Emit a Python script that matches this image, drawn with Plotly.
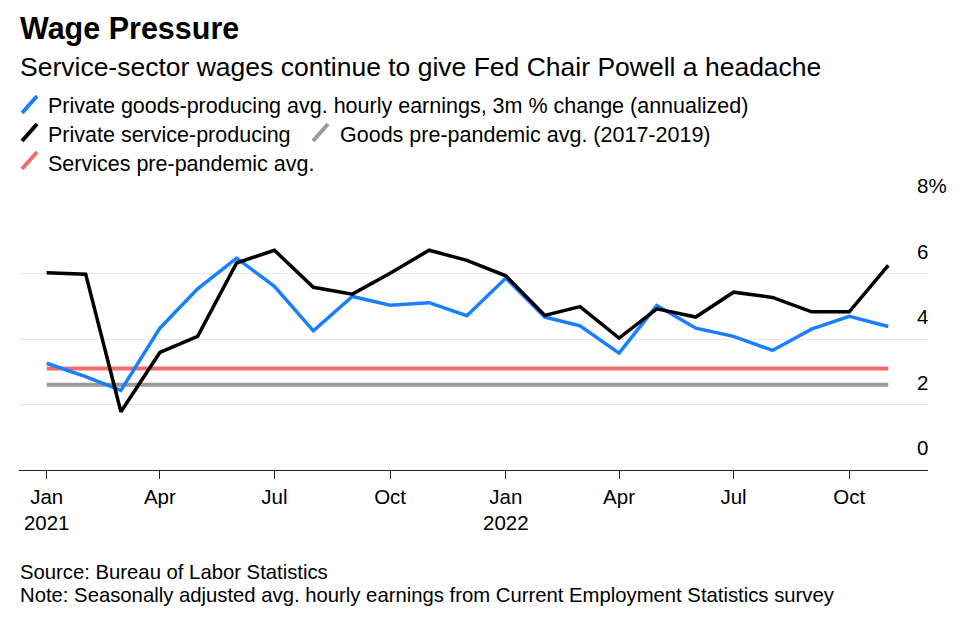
import plotly.graph_objects as go

# ---- data ----
months = ["2021-01-01", "2021-02-01", "2021-03-01", "2021-04-01", "2021-05-01", "2021-06-01",
          "2021-07-01", "2021-08-01", "2021-09-01", "2021-10-01", "2021-11-01", "2021-12-01",
          "2022-01-01", "2022-02-01", "2022-03-01", "2022-04-01", "2022-05-01", "2022-06-01",
          "2022-07-01", "2022-08-01", "2022-09-01", "2022-10-01", "2022-11-01"]
goods = [3.26, 2.85, 2.43, 4.33, 5.53, 6.47, 5.61, 4.25, 5.30, 5.03, 5.11, 4.71,
         5.86, 4.67, 4.40, 3.57, 5.02, 4.33, 4.08, 3.65, 4.30, 4.69, 4.38]
services = [6.02, 5.98, 1.78, 3.59, 4.08, 6.32, 6.71, 5.58, 5.37, 6.01, 6.71, 6.40,
            5.93, 4.72, 4.99, 4.03, 4.92, 4.67, 5.43, 5.27, 4.83, 4.83, 6.25]
goods_prepandemic_avg = 2.60
services_prepandemic_avg = 3.10

xtick_vals = ["2021-01-01", "2021-04-01", "2021-07-01", "2021-10-01",
              "2022-01-01", "2022-04-01", "2022-07-01", "2022-10-01"]
xtick_text = ["Jan<br>2021", "Apr", "Jul", "Oct", "Jan<br>2022", "Apr", "Jul", "Oct"]
ytick_vals = [0, 2, 4, 6, 8]
ytick_text = ["0", "2", "4", "6", "8%"]

title = "Wage Pressure"
subtitle = "Service-sector wages continue to give Fed Chair Powell a headache"
legend_names = ["Private goods-producing avg. hourly earnings, 3m % change (annualized)",
                "Private service-producing",
                "Goods pre-pandemic avg. (2017-2019)",
                "Services pre-pandemic avg."]
source = "Source: Bureau of Labor Statistics"
note = "Note: Seasonally adjusted avg. hourly earnings from Current Employment Statistics survey"

# ---- style ----
BLUE = "#1a7fff"
BLACK = "#000000"
GRAY = "#999999"
RED = "#f96b6b"
FONT = "Liberation Sans, Arial, sans-serif"

OFF = 8  # page body margin offset
W, H = 973 - OFF, 618 - OFF
# plot area in reference-picture pixels
L, R, T, B = 19, 928, 208, 470


def px(x):
    return (x - L) / (R - L)


def py(y):
    return (B - y) / (B - T)


fig = go.Figure()
fig.add_trace(go.Scatter(x=[months[0], months[-1]], y=[goods_prepandemic_avg] * 2, mode="lines",
                         line=dict(color=GRAY, width=4), name=legend_names[2]))
fig.add_trace(go.Scatter(x=[months[0], months[-1]], y=[services_prepandemic_avg] * 2, mode="lines",
                         line=dict(color=RED, width=4), name=legend_names[3]))
fig.add_trace(go.Scatter(x=months, y=goods, mode="lines",
                         line=dict(color=BLUE, width=3.5), name=legend_names[0]))
fig.add_trace(go.Scatter(x=months, y=services, mode="lines",
                         line=dict(color=BLACK, width=3.5), name=legend_names[1]))

annotations = []


def text(x, y, s, size, bold=False, color="#000"):
    annotations.append(dict(
        x=px(x), y=py(y), xref="paper", yref="paper", xanchor="left", yanchor="middle",
        text=f"<b>{s}</b>" if bold else s, showarrow=False,
        font=dict(family=FONT, size=size, color=color)))


text(18, 29, title, 30.5, bold=True)
text(18, 67, subtitle, 26.5)
text(46, 106, legend_names[0], 21.5)
text(46, 135, legend_names[1], 21.5)
text(338, 135, legend_names[2], 21.5)
text(46, 164, legend_names[3], 21.5)
text(18, 572, source, 20.3)
text(18, 595, note, 20.3)

for v, t in zip(ytick_vals, ytick_text):
    annotations.append(dict(
        x=px(915), y=v, xref="paper", yref="y", xanchor="left", yanchor="middle",
        yshift=22.5, text=t, showarrow=False, font=dict(family=FONT, size=20.5, color="#000")))

shapes = []


def slash(x0, y0, x1, y1, color):
    shapes.append(dict(type="line", xref="paper", yref="paper",
                       x0=px(x0), y0=py(y0), x1=px(x1), y1=py(y1),
                       line=dict(color=color, width=4)))


slash(22, 113, 37, 96, BLUE)
slash(22, 141, 37, 124, BLACK)
slash(313, 141, 328, 124, GRAY)
slash(22, 169, 37, 152, RED)

fig.update_layout(
    width=W, height=H,
    margin=dict(l=L - OFF, r=973 - R, t=T - OFF, b=618 - B),
    paper_bgcolor="white", plot_bgcolor="white",
    showlegend=False,
    annotations=annotations,
    shapes=shapes,
    font=dict(family=FONT, size=20, color="#000"),
    xaxis=dict(
        type="date",
        range=["2020-12-10", "2022-12-02 14:00"],
        tickvals=xtick_vals, ticktext=xtick_text,
        tickfont=dict(family=FONT, size=20.5, color="#000"),
        showgrid=False, zeroline=False,
        showline=True, linecolor="#222", linewidth=1.2,
        ticks="outside", ticklen=8, tickwidth=1.2, tickcolor="#222",
    ),
    yaxis=dict(
        range=[0, 8], tickvals=ytick_vals, showticklabels=False,
        showgrid=True, gridcolor="#e9e9e9", gridwidth=1,
        zeroline=False, showline=False, fixedrange=True,
    ),
)

fig.write_html("out.html")
